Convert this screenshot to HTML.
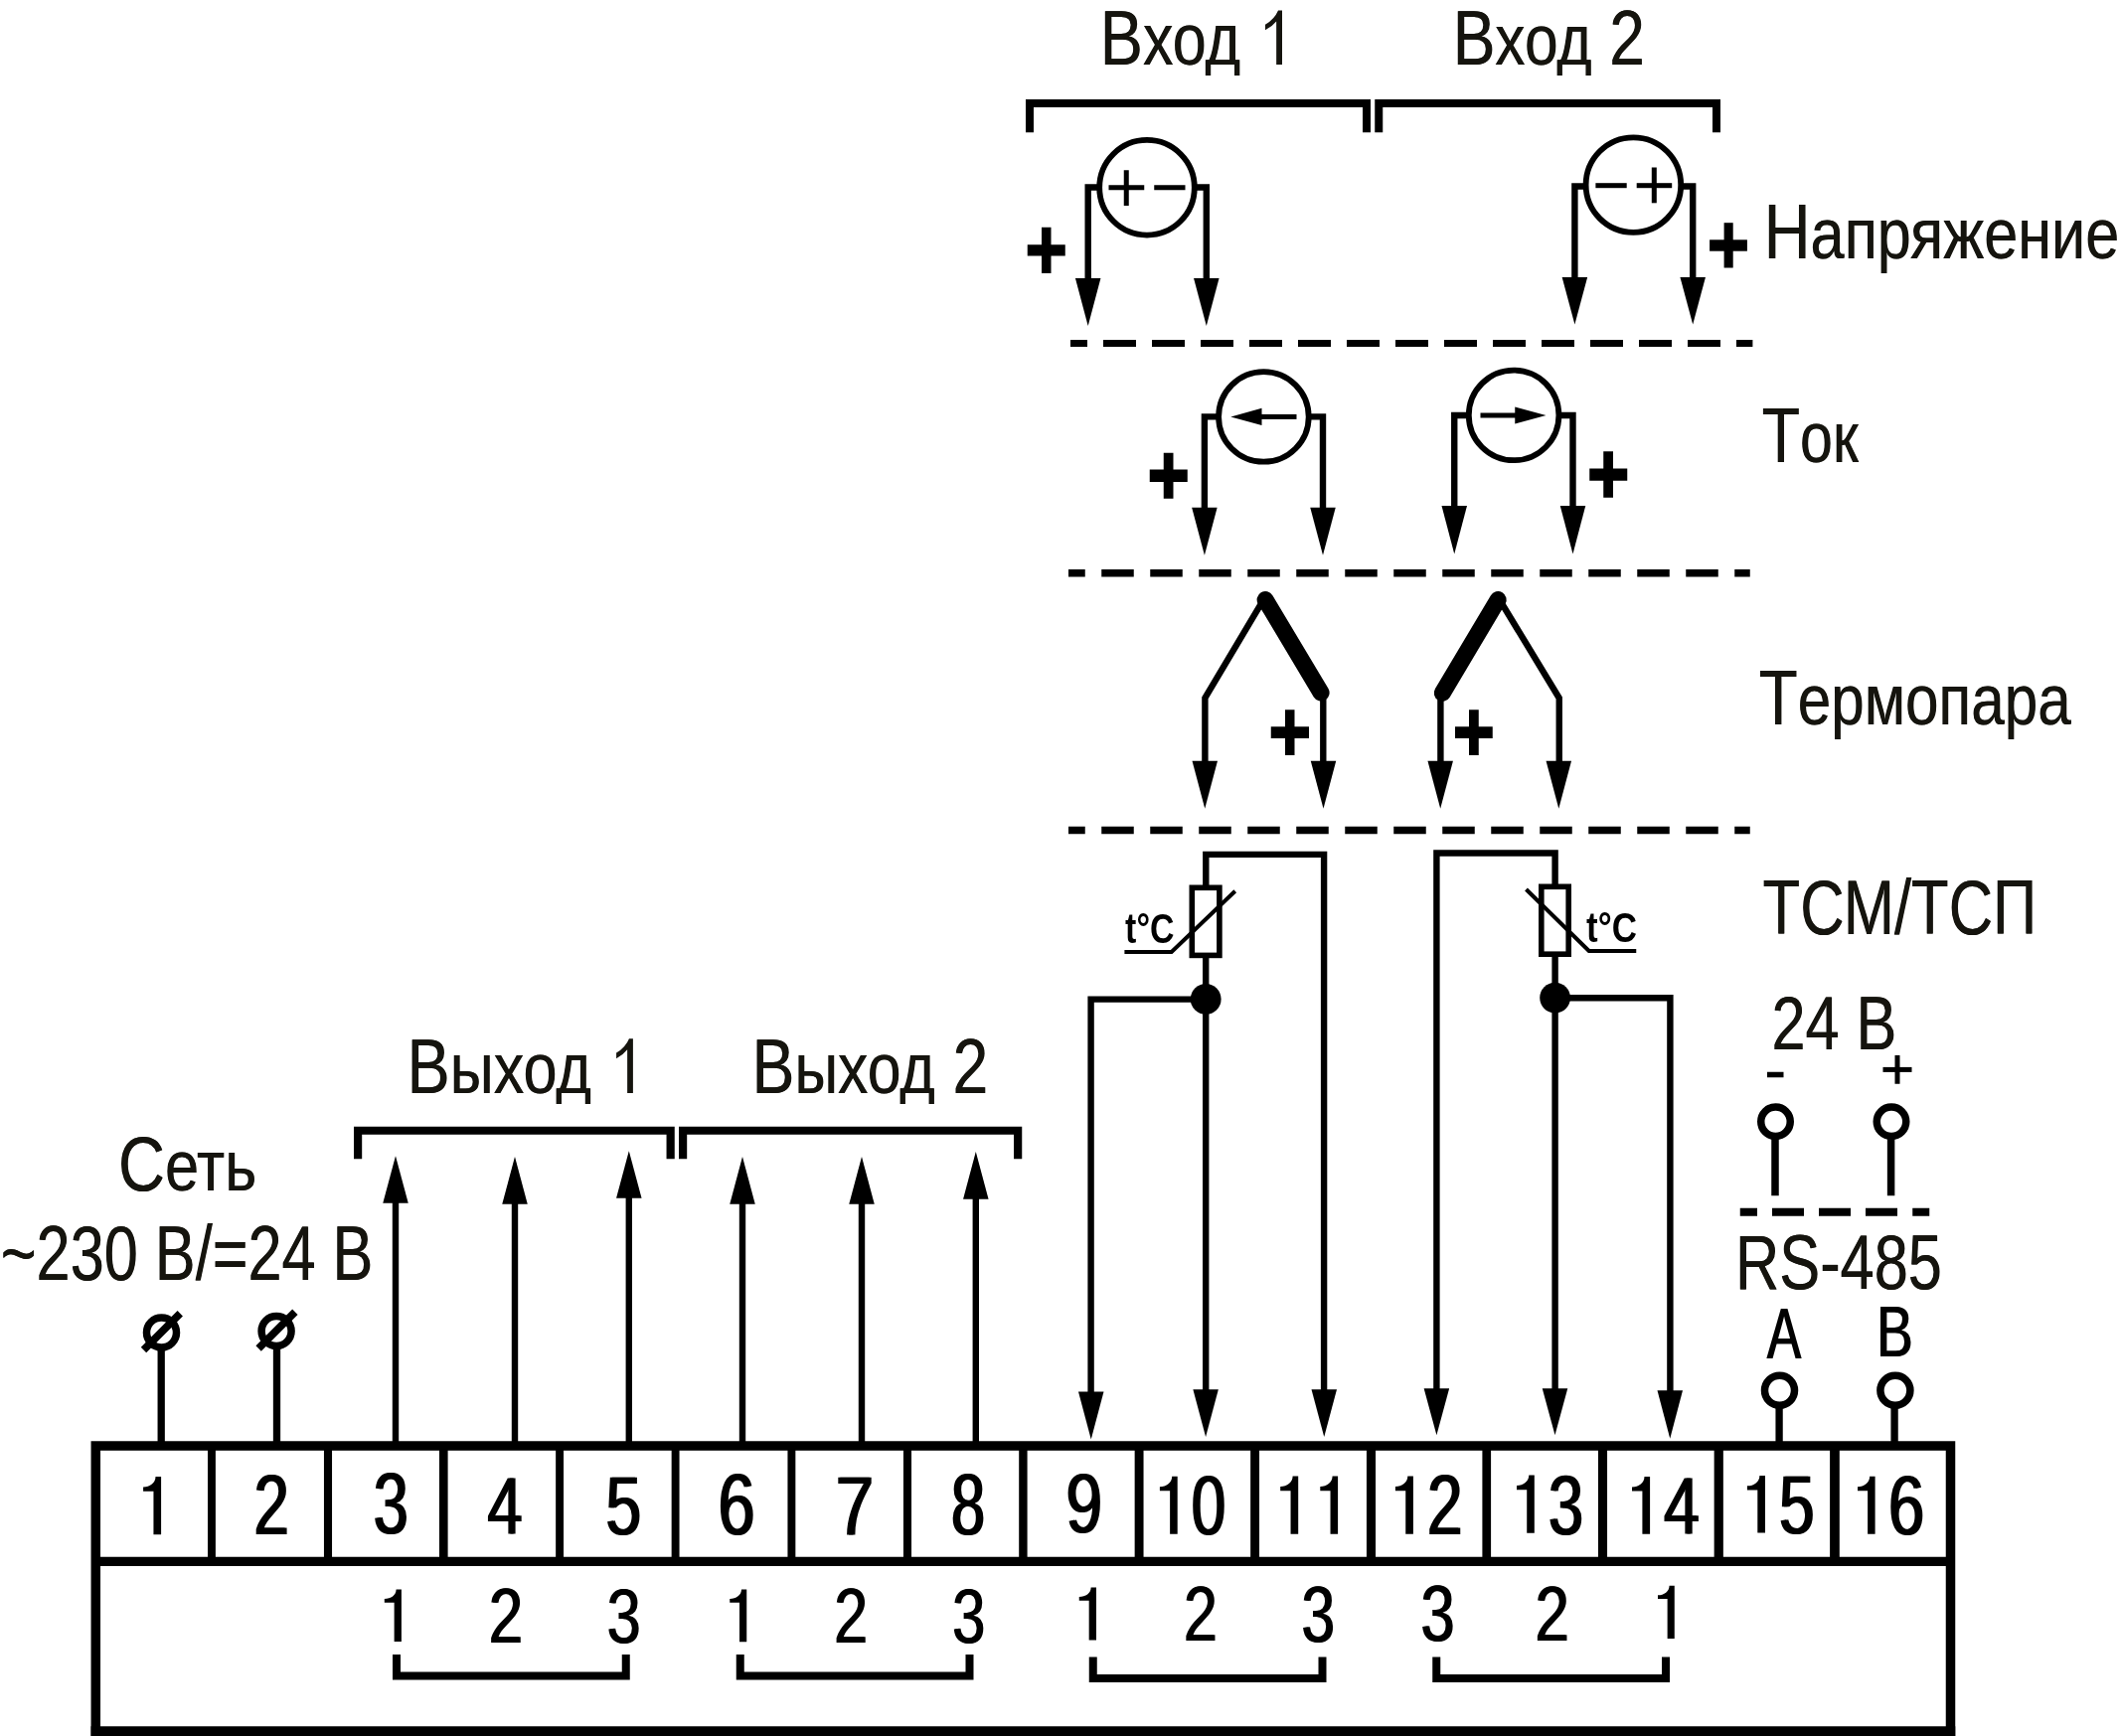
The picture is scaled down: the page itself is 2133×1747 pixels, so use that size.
<!DOCTYPE html>
<html><head><meta charset="utf-8"><title>Схема подключения</title>
<style>
html,body{margin:0;padding:0;background:#fff;}
body{width:2133px;height:1747px;overflow:hidden;}
svg{display:block;}
text{font-family:"Liberation Sans",sans-serif;white-space:pre;}
</style></head><body>
<svg width="2133" height="1747" viewBox="0 0 2133 1747">
<rect width="2133" height="1747" fill="#fff"/>
<path d="M1290.00,65.00 V10.50 H1286.02 Q1282.35,19.22 1273.00,24.83 V30.34 Q1279.80,26.85 1284.17,21.40 V65.00 Z" fill="#15140e"/>
<path d="M636.90,1100.00 V1045.20 H632.97 Q629.34,1053.97 620.10,1059.61 V1065.15 Q626.82,1061.64 631.14,1056.16 V1100.00 Z" fill="#15140e"/>
<path d="M162.10,1544.20 V1486.00 H156.52 C156.52,1492.29 150.93,1496.48 144.10,1496.48 V1500.67 H154.45 V1544.20 Z" fill="#000"/>
<path d="M1184.70,1543.80 V1485.70 H1179.18 C1179.18,1491.97 1173.66,1496.16 1166.90,1496.16 V1500.34 H1177.13 V1543.80 Z" fill="#000"/>
<path d="M1306.20,1543.80 V1485.60 H1300.62 C1300.62,1491.89 1295.03,1496.08 1288.20,1496.08 V1500.27 H1298.55 V1543.80 Z" fill="#000"/>
<path d="M1346.10,1543.80 V1485.60 H1340.58 C1340.58,1491.89 1335.06,1496.08 1328.30,1496.08 V1500.27 H1338.53 V1543.80 Z" fill="#000"/>
<path d="M1421.90,1543.80 V1485.60 H1416.32 C1416.32,1491.89 1410.73,1496.08 1403.90,1496.08 V1500.27 H1414.25 V1543.80 Z" fill="#000"/>
<path d="M1543.80,1542.70 V1484.50 H1538.28 C1538.28,1490.79 1532.76,1494.98 1526.00,1494.98 V1499.17 H1536.23 V1542.70 Z" fill="#000"/>
<path d="M1660.10,1543.80 V1486.00 H1654.49 C1654.49,1492.24 1648.87,1496.40 1642.00,1496.40 V1500.57 H1652.41 V1543.80 Z" fill="#000"/>
<path d="M1776.00,1542.60 V1484.90 H1770.39 C1770.39,1491.13 1764.77,1495.29 1757.90,1495.29 V1499.44 H1768.31 V1542.60 Z" fill="#000"/>
<path d="M1886.60,1543.80 V1485.70 H1881.14 C1881.14,1491.97 1875.68,1496.16 1869.00,1496.16 V1500.34 H1879.12 V1543.80 Z" fill="#000"/>
<path d="M403.90,1652.10 V1599.40 H398.60 C398.60,1605.09 393.29,1608.89 386.80,1608.89 V1612.68 H396.63 V1652.10 Z" fill="#000"/>
<path d="M751.25,1652.20 V1599.60 H745.98 C745.98,1605.28 740.70,1609.07 734.25,1609.07 V1612.86 H744.02 V1652.20 Z" fill="#000"/>
<path d="M1103.00,1650.40 V1597.50 H1097.65 C1097.65,1603.21 1092.30,1607.02 1085.75,1607.02 V1610.83 H1095.67 V1650.40 Z" fill="#000"/>
<path d="M1684.75,1648.90 V1595.70 H1679.56 C1679.56,1601.45 1674.36,1605.28 1668.00,1605.28 V1609.11 H1677.63 V1648.90 Z" fill="#000"/>
<path d="M96.3,1747 V1455 H1962.5 V1747" fill="none" stroke="#000" stroke-width="9.5" stroke-linejoin="miter" stroke-linecap="butt"/>
<line x1="91.55" y1="1742.2" x2="1967.25" y2="1742.2" stroke="#000" stroke-width="10" stroke-linecap="butt"/>
<line x1="96.3" y1="1571.4" x2="1962.5" y2="1571.4" stroke="#000" stroke-width="9.3" stroke-linecap="butt"/>
<line x1="212.95" y1="1455" x2="212.95" y2="1571.4" stroke="#000" stroke-width="7.9" stroke-linecap="butt"/>
<line x1="330.00" y1="1455" x2="330.00" y2="1571.4" stroke="#000" stroke-width="8.1" stroke-linecap="butt"/>
<line x1="446.30" y1="1455" x2="446.30" y2="1571.4" stroke="#000" stroke-width="8.6" stroke-linecap="butt"/>
<line x1="563.10" y1="1455" x2="563.10" y2="1571.4" stroke="#000" stroke-width="7.9" stroke-linecap="butt"/>
<line x1="679.60" y1="1455" x2="679.60" y2="1571.4" stroke="#000" stroke-width="7.9" stroke-linecap="butt"/>
<line x1="796.40" y1="1455" x2="796.40" y2="1571.4" stroke="#000" stroke-width="7.9" stroke-linecap="butt"/>
<line x1="913.00" y1="1455" x2="913.00" y2="1571.4" stroke="#000" stroke-width="8.1" stroke-linecap="butt"/>
<line x1="1029.40" y1="1455" x2="1029.40" y2="1571.4" stroke="#000" stroke-width="8.4" stroke-linecap="butt"/>
<line x1="1146.10" y1="1455" x2="1146.10" y2="1571.4" stroke="#000" stroke-width="8.9" stroke-linecap="butt"/>
<line x1="1262.60" y1="1455" x2="1262.60" y2="1571.4" stroke="#000" stroke-width="8.9" stroke-linecap="butt"/>
<line x1="1379.50" y1="1455" x2="1379.50" y2="1571.4" stroke="#000" stroke-width="9.1" stroke-linecap="butt"/>
<line x1="1495.75" y1="1455" x2="1495.75" y2="1571.4" stroke="#000" stroke-width="8.7" stroke-linecap="butt"/>
<line x1="1612.50" y1="1455" x2="1612.50" y2="1571.4" stroke="#000" stroke-width="9.1" stroke-linecap="butt"/>
<line x1="1729.25" y1="1455" x2="1729.25" y2="1571.4" stroke="#000" stroke-width="9.2" stroke-linecap="butt"/>
<line x1="1845.95" y1="1455" x2="1845.95" y2="1571.4" stroke="#000" stroke-width="9.7" stroke-linecap="butt"/>
<path d="M399,1665 V1686.5 H629.75 V1665" fill="none" stroke="#000" stroke-width="8" stroke-linejoin="miter" stroke-linecap="butt"/>
<path d="M744.75,1665 V1686.5 H975.5 V1665" fill="none" stroke="#000" stroke-width="8" stroke-linejoin="miter" stroke-linecap="butt"/>
<path d="M1099.75,1667.5 V1689 H1330.5 V1667.5" fill="none" stroke="#000" stroke-width="8" stroke-linejoin="miter" stroke-linecap="butt"/>
<path d="M1445.25,1667.5 V1689 H1676 V1667.5" fill="none" stroke="#000" stroke-width="8" stroke-linejoin="miter" stroke-linecap="butt"/>
<path d="M360.1,1166.25 V1137.75 H674.65 V1166.25" fill="none" stroke="#000" stroke-width="8.2" stroke-linejoin="miter" stroke-linecap="butt"/>
<path d="M687.1,1166.25 V1137.75 H1024.15 V1166.25" fill="none" stroke="#000" stroke-width="8.2" stroke-linejoin="miter" stroke-linecap="butt"/>
<path d="M1036,133.2 V104.1 H1375 V133.2" fill="none" stroke="#000" stroke-width="8" stroke-linejoin="miter" stroke-linecap="butt"/>
<path d="M1387.25,133.2 V104.1 H1727 V133.2" fill="none" stroke="#000" stroke-width="8" stroke-linejoin="miter" stroke-linecap="butt"/>
<circle cx="162.5" cy="1341" r="15" fill="none" stroke="#000" stroke-width="7.5"/>
<line x1="181.25" y1="1321.75" x2="144.5" y2="1358.5" stroke="#000" stroke-width="7.6" stroke-linecap="butt"/>
<line x1="162.2" y1="1355" x2="162.2" y2="1452" stroke="#000" stroke-width="7.3" stroke-linecap="butt"/>
<circle cx="278.1" cy="1339.5" r="15" fill="none" stroke="#000" stroke-width="7.5"/>
<line x1="296.85" y1="1320.25" x2="260.1" y2="1357.0" stroke="#000" stroke-width="7.6" stroke-linecap="butt"/>
<line x1="278.5" y1="1353.5" x2="278.5" y2="1452" stroke="#000" stroke-width="7.3" stroke-linecap="butt"/>
<polygon points="385.25,1210.75 410.75,1210.75 398,1163.15" fill="#000"/>
<line x1="398" y1="1209.75" x2="398" y2="1452" stroke="#000" stroke-width="6.4" stroke-linecap="butt"/>
<polygon points="505.25,1211.75 530.75,1211.75 518,1163.9" fill="#000"/>
<line x1="518" y1="1210.75" x2="518" y2="1452" stroke="#000" stroke-width="6.4" stroke-linecap="butt"/>
<polygon points="620.05,1205.75 645.55,1205.75 632.8,1158.15" fill="#000"/>
<line x1="632.8" y1="1204.75" x2="632.8" y2="1452" stroke="#000" stroke-width="6.4" stroke-linecap="butt"/>
<polygon points="734.25,1211.75 759.75,1211.75 747,1163.9" fill="#000"/>
<line x1="747" y1="1210.75" x2="747" y2="1452" stroke="#000" stroke-width="6.4" stroke-linecap="butt"/>
<polygon points="854.25,1211.75 879.75,1211.75 867,1163.9" fill="#000"/>
<line x1="867" y1="1210.75" x2="867" y2="1452" stroke="#000" stroke-width="6.4" stroke-linecap="butt"/>
<polygon points="969.05,1206.75 994.55,1206.75 981.8,1158.9" fill="#000"/>
<line x1="981.8" y1="1205.75" x2="981.8" y2="1452" stroke="#000" stroke-width="6.4" stroke-linecap="butt"/>
<circle cx="1786.5" cy="1128.75" r="14.75" fill="none" stroke="#000" stroke-width="7.5"/>
<line x1="1786" y1="1143" x2="1786" y2="1203.25" stroke="#000" stroke-width="7.5" stroke-linecap="butt"/>
<circle cx="1903" cy="1128.75" r="14.75" fill="none" stroke="#000" stroke-width="7.5"/>
<line x1="1902.6" y1="1143" x2="1902.6" y2="1203.25" stroke="#000" stroke-width="7.5" stroke-linecap="butt"/>
<rect x="1778.00" y="1078.75" width="16.50" height="5.50" fill="#000"/>
<rect x="1894.50" y="1073.90" width="29.00" height="5.00" fill="#000"/>
<rect x="1906.50" y="1062.00" width="5.00" height="28.75" fill="#000"/>
<rect x="1750.75" y="1215.75" width="17.25" height="8.00" fill="#000"/>
<rect x="1783.00" y="1215.75" width="32.00" height="8.00" fill="#000"/>
<rect x="1830.00" y="1215.75" width="32.00" height="8.00" fill="#000"/>
<rect x="1877.00" y="1215.75" width="32.00" height="8.00" fill="#000"/>
<rect x="1924.25" y="1215.75" width="17.00" height="8.00" fill="#000"/>
<circle cx="1790.5" cy="1399.25" r="15" fill="none" stroke="#000" stroke-width="7.5"/>
<line x1="1790.1" y1="1413" x2="1790.1" y2="1452" stroke="#000" stroke-width="7.3" stroke-linecap="butt"/>
<circle cx="1906.9" cy="1399.25" r="15" fill="none" stroke="#000" stroke-width="7.5"/>
<line x1="1906.1" y1="1413" x2="1906.1" y2="1452" stroke="#000" stroke-width="7.3" stroke-linecap="butt"/>
<line x1="1077" y1="345.5" x2="1763.4" y2="345.5" stroke="#000" stroke-width="7.2" stroke-dasharray="33 16" stroke-dashoffset="16"/>
<line x1="1075" y1="576.75" x2="1760.75" y2="576.75" stroke="#000" stroke-width="7.5" stroke-dasharray="32.5 16.5" stroke-dashoffset="15.75"/>
<line x1="1075" y1="835.5" x2="1760.75" y2="835.5" stroke="#000" stroke-width="7.5" stroke-dasharray="32.5 16.5" stroke-dashoffset="15.75"/>
<path d="M1094.7,281 V188.5 H1107 M1201,188.5 H1213.8 V281" fill="none" stroke="#000" stroke-width="6.4" stroke-linejoin="miter" stroke-linecap="butt"/>
<circle cx="1154" cy="188.75" r="47.8" fill="none" stroke="#000" stroke-width="5.8"/>
<polygon points="1081.95,280 1107.45,280 1094.7,328.1" fill="#000"/>
<polygon points="1201.05,280 1226.55,280 1213.8,328.1" fill="#000"/>
<path d="M1584.4,279.9 V187.5 H1596.4 M1690.4,187.5 H1703.2 V279.9" fill="none" stroke="#000" stroke-width="6.4" stroke-linejoin="miter" stroke-linecap="butt"/>
<circle cx="1643.4" cy="186.1" r="47.8" fill="none" stroke="#000" stroke-width="5.8"/>
<polygon points="1571.65,278.9 1597.15,278.9 1584.4,326.40000000000003" fill="#000"/>
<polygon points="1690.45,278.9 1715.95,278.9 1703.2,326.40000000000003" fill="#000"/>
<rect x="1115.50" y="186.25" width="35.75" height="5.00" fill="#000"/>
<rect x="1130.75" y="171.25" width="5.00" height="35.75" fill="#000"/>
<rect x="1161.25" y="186.25" width="31.25" height="5.00" fill="#000"/>
<rect x="1605.40" y="184.20" width="31.30" height="5.00" fill="#000"/>
<rect x="1646.70" y="184.20" width="35.50" height="5.00" fill="#000"/>
<rect x="1661.80" y="168.50" width="5.00" height="35.80" fill="#000"/>
<rect x="1033.75" y="246.25" width="38.00" height="11.25" fill="#000"/>
<rect x="1048.00" y="228.75" width="9.50" height="46.25" fill="#000"/>
<rect x="1720.10" y="241.30" width="37.80" height="11.40" fill="#000"/>
<rect x="1734.60" y="224.20" width="9.10" height="45.30" fill="#000"/>
<path d="M1211.9,511.75 V419.4 H1227.4 M1315.4,419.4 H1331 V511.75" fill="none" stroke="#000" stroke-width="6.4" stroke-linejoin="miter" stroke-linecap="butt"/>
<circle cx="1271.4" cy="419.4" r="45.3" fill="none" stroke="#000" stroke-width="5.8"/>
<polygon points="1199.15,510.75 1224.65,510.75 1211.9,558.85" fill="#000"/>
<polygon points="1318.25,510.75 1343.75,510.75 1331,558.85" fill="#000"/>
<path d="M1463.25,510 V418 H1479.1 M1567.1,418 H1582.5 V510" fill="none" stroke="#000" stroke-width="6.4" stroke-linejoin="miter" stroke-linecap="butt"/>
<circle cx="1523.1" cy="417.9" r="45.3" fill="none" stroke="#000" stroke-width="5.8"/>
<polygon points="1450.5,509 1476.0,509 1463.25,557.6" fill="#000"/>
<polygon points="1569.75,509 1595.25,509 1582.5,557.6" fill="#000"/>
<polygon points="1238.25,419.4 1269.5,410.8 1269.5,428" fill="#000"/>
<rect x="1268.00" y="416.90" width="36.50" height="5.00" fill="#000"/>
<polygon points="1555.5,418 1524.25,409.5 1524.25,426.5" fill="#000"/>
<rect x="1489.50" y="415.50" width="36.50" height="5.00" fill="#000"/>
<rect x="1156.75" y="472.50" width="38.00" height="12.50" fill="#000"/>
<rect x="1170.75" y="455.75" width="9.75" height="46.00" fill="#000"/>
<rect x="1599.25" y="471.50" width="38.00" height="12.25" fill="#000"/>
<rect x="1613.25" y="454.25" width="9.75" height="46.50" fill="#000"/>
<path d="M1270,605.6 L1212.4,702.3 V767" fill="none" stroke="#000" stroke-width="6.4" stroke-linejoin="miter" stroke-linecap="butt"/>
<line x1="1273.1" y1="603.5" x2="1329.1" y2="697.1" stroke="#000" stroke-width="17" stroke-linecap="round"/>
<line x1="1331.3" y1="697" x2="1331.3" y2="767" stroke="#000" stroke-width="6.4" stroke-linecap="butt"/>
<polygon points="1199.5,765.75 1225.0,765.75 1212.25,813.85" fill="#000"/>
<polygon points="1318.75,765.75 1344.25,765.75 1331.5,813.85" fill="#000"/>
<path d="M1510,605.6 L1568.75,702.5 V767" fill="none" stroke="#000" stroke-width="6.4" stroke-linejoin="miter" stroke-linecap="butt"/>
<line x1="1507.2" y1="603.5" x2="1451.3" y2="697.3" stroke="#000" stroke-width="17" stroke-linecap="round"/>
<line x1="1449.4" y1="697" x2="1449.4" y2="767" stroke="#000" stroke-width="6.4" stroke-linecap="butt"/>
<polygon points="1436.45,765.75 1461.95,765.75 1449.2,813.85" fill="#000"/>
<polygon points="1555.55,765.75 1581.05,765.75 1568.3,813.85" fill="#000"/>
<rect x="1278.75" y="731.25" width="38.25" height="11.75" fill="#000"/>
<rect x="1293.00" y="714.25" width="9.50" height="45.75" fill="#000"/>
<rect x="1464.00" y="731.25" width="37.75" height="11.75" fill="#000"/>
<rect x="1478.00" y="714.25" width="9.75" height="45.75" fill="#000"/>
<path d="M1213.3,891 V859.9 H1332.1 V1399" fill="none" stroke="#000" stroke-width="6.4" stroke-linejoin="miter" stroke-linecap="butt"/>
<rect x="1199.3" y="893.3" width="27.6" height="68.1" fill="none" stroke="#000" stroke-width="5.6"/>
<line x1="1213.2" y1="964" x2="1213.2" y2="1399" stroke="#000" stroke-width="6.4" stroke-linecap="butt"/>
<path d="M1213,1005.6 H1097.6 V1401" fill="none" stroke="#000" stroke-width="6.4" stroke-linejoin="miter" stroke-linecap="butt"/>
<circle cx="1213.2" cy="1005.4" r="15.4" fill="#000"/>
<path d="M1242.7,896.7 L1178.7,958 H1131.4" fill="none" stroke="#000" stroke-width="4" stroke-linejoin="miter" stroke-linecap="butt"/>
<polygon points="1085.0,1400.5 1110.5,1400.5 1097.75,1448.6" fill="#000"/>
<polygon points="1200.35,1398.25 1225.85,1398.25 1213.1,1446.1" fill="#000"/>
<polygon points="1319.5,1398.25 1345.0,1398.25 1332.25,1446.1" fill="#000"/>
<path d="M1564.6,890 V858.5 H1445.4 V1398" fill="none" stroke="#000" stroke-width="6.4" stroke-linejoin="miter" stroke-linecap="butt"/>
<rect x="1550.8" y="892.3" width="27.4" height="67.9" fill="none" stroke="#000" stroke-width="5.6"/>
<line x1="1564.6" y1="963" x2="1564.6" y2="1398" stroke="#000" stroke-width="6.4" stroke-linecap="butt"/>
<path d="M1565,1004.2 H1680.4 V1400" fill="none" stroke="#000" stroke-width="6.4" stroke-linejoin="miter" stroke-linecap="butt"/>
<circle cx="1564.6" cy="1004.1" r="15.4" fill="#000"/>
<path d="M1535.5,895 L1598.75,956.9 H1646.25" fill="none" stroke="#000" stroke-width="4" stroke-linejoin="miter" stroke-linecap="butt"/>
<polygon points="1432.65,1397.25 1458.15,1397.25 1445.4,1444.35" fill="#000"/>
<polygon points="1551.75,1397.25 1577.25,1397.25 1564.5,1444.35" fill="#000"/>
<polygon points="1667.5,1399.25 1693.0,1399.25 1680.25,1447.85" fill="#000"/>
<g opacity="0.999">
<text transform="translate(254.53,1544.25) scale(0.7500,1)" font-size="84.62" fill="#000">2</text>
<text transform="translate(256.52,1544.25) scale(0.7500,1)" font-size="84.62" fill="#000">2</text>
<text transform="translate(374.78,1543.45) scale(0.7300,1)" font-size="86.26" fill="#000">3</text>
<text transform="translate(376.78,1543.45) scale(0.7300,1)" font-size="86.26" fill="#000">3</text>
<text transform="translate(489.52,1543.90) scale(0.7694,1)" font-size="81.92" fill="#000">4</text>
<text transform="translate(491.52,1543.90) scale(0.7694,1)" font-size="81.92" fill="#000">4</text>
<text transform="translate(608.39,1543.99) scale(0.7640,1)" font-size="84.03" fill="#000">5</text>
<text transform="translate(610.39,1543.99) scale(0.7640,1)" font-size="84.03" fill="#000">5</text>
<text transform="translate(721.57,1543.55) scale(0.7741,1)" font-size="86.26" fill="#000">6</text>
<text transform="translate(723.57,1543.55) scale(0.7741,1)" font-size="86.26" fill="#000">6</text>
<text transform="translate(839.76,1544.30) scale(0.8365,1)" font-size="82.63" fill="#000">7</text>
<text transform="translate(841.76,1544.30) scale(0.8365,1)" font-size="82.63" fill="#000">7</text>
<text transform="translate(955.98,1543.55) scale(0.7108,1)" font-size="86.26" fill="#000">8</text>
<text transform="translate(957.98,1543.55) scale(0.7108,1)" font-size="86.26" fill="#000">8</text>
<text transform="translate(1071.52,1542.06) scale(0.7679,1)" font-size="85.57" fill="#000">9</text>
<text transform="translate(1073.52,1542.06) scale(0.7679,1)" font-size="85.57" fill="#000">9</text>
<text transform="translate(1197.86,1543.97) scale(0.7293,1)" font-size="85.01" fill="#000">0</text>
<text transform="translate(1199.86,1543.97) scale(0.7293,1)" font-size="85.01" fill="#000">0</text>
<text transform="translate(1435.11,1543.80) scale(0.7513,1)" font-size="84.91" fill="#000">2</text>
<text transform="translate(1437.11,1543.80) scale(0.7513,1)" font-size="84.91" fill="#000">2</text>
<text transform="translate(1557.03,1543.55) scale(0.7311,1)" font-size="86.12" fill="#000">3</text>
<text transform="translate(1559.03,1543.55) scale(0.7311,1)" font-size="86.12" fill="#000">3</text>
<text transform="translate(1672.99,1543.80) scale(0.7833,1)" font-size="82.20" fill="#000">4</text>
<text transform="translate(1674.99,1543.80) scale(0.7833,1)" font-size="82.20" fill="#000">4</text>
<text transform="translate(1788.90,1543.30) scale(0.7705,1)" font-size="83.06" fill="#000">5</text>
<text transform="translate(1790.90,1543.30) scale(0.7705,1)" font-size="83.06" fill="#000">5</text>
<text transform="translate(1898.95,1544.16) scale(0.7604,1)" font-size="85.57" fill="#000">6</text>
<text transform="translate(1900.95,1544.16) scale(0.7604,1)" font-size="85.57" fill="#000">6</text>
<text transform="translate(491.10,1652.80) scale(0.7952,1)" font-size="77.80" fill="#000">2</text>
<text transform="translate(492.40,1652.80) scale(0.7952,1)" font-size="77.80" fill="#000">2</text>
<text transform="translate(609.98,1652.68) scale(0.7856,1)" font-size="78.05" fill="#000">3</text>
<text transform="translate(611.28,1652.68) scale(0.7856,1)" font-size="78.05" fill="#000">3</text>
<text transform="translate(838.38,1652.90) scale(0.7856,1)" font-size="77.94" fill="#000">2</text>
<text transform="translate(839.68,1652.90) scale(0.7856,1)" font-size="77.94" fill="#000">2</text>
<text transform="translate(957.38,1652.88) scale(0.7644,1)" font-size="78.19" fill="#000">3</text>
<text transform="translate(958.68,1652.88) scale(0.7644,1)" font-size="78.19" fill="#000">3</text>
<text transform="translate(1190.13,1651.00) scale(0.7827,1)" font-size="78.22" fill="#000">2</text>
<text transform="translate(1191.43,1651.00) scale(0.7827,1)" font-size="78.22" fill="#000">2</text>
<text transform="translate(1308.87,1651.55) scale(0.7549,1)" font-size="79.86" fill="#000">3</text>
<text transform="translate(1310.17,1651.55) scale(0.7549,1)" font-size="79.86" fill="#000">3</text>
<text transform="translate(1428.83,1650.97) scale(0.7759,1)" font-size="79.03" fill="#000">3</text>
<text transform="translate(1430.13,1650.97) scale(0.7759,1)" font-size="79.03" fill="#000">3</text>
<text transform="translate(1543.86,1651.00) scale(0.7939,1)" font-size="77.80" fill="#000">2</text>
<text transform="translate(1545.16,1651.00) scale(0.7939,1)" font-size="77.80" fill="#000">2</text>
<clipPath id="c44"><rect x="1106.6" y="-15" width="146.4" height="90.9"/></clipPath><g clip-path="url(#c44)">
<text transform="translate(1106.54,65) scale(0.8348,1)" font-size="77.51" fill="#15140e"><tspan font-size="77.51">В</tspan><tspan font-size="73.17">ход</tspan></text>
<text transform="translate(1107.04,65) scale(0.8348,1)" font-size="77.51" fill="#15140e"><tspan font-size="77.51">В</tspan><tspan font-size="73.17">ход</tspan></text>
</g>
<clipPath id="c48"><rect x="1461.4" y="-15" width="196.2" height="90.9"/></clipPath><g clip-path="url(#c48)">
<text transform="translate(1461.40,65) scale(0.8265,1)" font-size="77.51" fill="#15140e"><tspan font-size="77.51">В</tspan><tspan font-size="73.17">ход</tspan><tspan font-size="77.51"> 2</tspan></text>
<text transform="translate(1461.90,65) scale(0.8265,1)" font-size="77.51" fill="#15140e"><tspan font-size="77.51">В</tspan><tspan font-size="73.17">ход</tspan><tspan font-size="77.51"> 2</tspan></text>
</g>
<text transform="translate(1774.54,259.6) scale(0.8363,1)" font-size="77.51" fill="#15140e"><tspan font-size="77.51">Н</tspan><tspan font-size="73.17">апряжение</tspan></text>
<text transform="translate(1775.04,259.6) scale(0.8363,1)" font-size="77.51" fill="#15140e"><tspan font-size="77.51">Н</tspan><tspan font-size="73.17">апряжение</tspan></text>
<text transform="translate(1772.52,465) scale(0.8084,1)" font-size="77.51" fill="#15140e"><tspan font-size="77.51">Т</tspan><tspan font-size="73.17">ок</tspan></text>
<text transform="translate(1773.02,465) scale(0.8084,1)" font-size="77.51" fill="#15140e"><tspan font-size="77.51">Т</tspan><tspan font-size="73.17">ок</tspan></text>
<text transform="translate(1769.50,729) scale(0.8230,1)" font-size="77.51" fill="#15140e"><tspan font-size="77.51">Т</tspan><tspan font-size="73.17">ермопара</tspan></text>
<text transform="translate(1770.00,729) scale(0.8230,1)" font-size="77.51" fill="#15140e"><tspan font-size="77.51">Т</tspan><tspan font-size="73.17">ермопара</tspan></text>
<text transform="translate(1773.34,940) scale(0.7916,1)" font-size="77.65" fill="#15140e">ТСМ/ТСП</text>
<text transform="translate(1773.84,940) scale(0.7916,1)" font-size="77.65" fill="#15140e">ТСМ/ТСП</text>
<text transform="translate(1782.13,1056.25) scale(0.7972,1)" font-size="76.80" fill="#15140e">24 В</text>
<text transform="translate(1782.63,1056.25) scale(0.7972,1)" font-size="76.80" fill="#15140e">24 В</text>
<text transform="translate(1745.71,1297) scale(0.7901,1)" font-size="77.65" fill="#15140e">RS-485</text>
<text transform="translate(1746.21,1297) scale(0.7901,1)" font-size="77.65" fill="#15140e">RS-485</text>
<text transform="translate(1777.25,1367) scale(0.7160,1)" font-size="71.82" fill="#000">A</text>
<text transform="translate(1778.45,1367) scale(0.7160,1)" font-size="71.82" fill="#000">A</text>
<text transform="translate(1887.46,1365) scale(0.7651,1)" font-size="71.82" fill="#000">В</text>
<text transform="translate(1888.66,1365) scale(0.7651,1)" font-size="71.82" fill="#000">В</text>
<text transform="translate(118.70,1197.5) scale(0.8444,1)" font-size="77.08" fill="#15140e"><tspan font-size="77.08">С</tspan><tspan font-size="72.77">еть</tspan></text>
<text transform="translate(119.20,1197.5) scale(0.8444,1)" font-size="77.08" fill="#15140e"><tspan font-size="77.08">С</tspan><tspan font-size="72.77">еть</tspan></text>
<text transform="translate(0.59,1287.5) scale(0.7890,1)" font-size="77.65" fill="#15140e">~230 В/=24 В</text>
<text transform="translate(1.09,1287.5) scale(0.7890,1)" font-size="77.65" fill="#15140e">~230 В/=24 В</text>
<clipPath id="c72"><rect x="409.3" y="1020" width="190.7" height="90.9"/></clipPath><g clip-path="url(#c72)">
<text transform="translate(409.23,1100) scale(0.8366,1)" font-size="77.51" fill="#15140e"><tspan font-size="77.51">В</tspan><tspan font-size="73.17">ыход</tspan></text>
<text transform="translate(409.73,1100) scale(0.8366,1)" font-size="77.51" fill="#15140e"><tspan font-size="77.51">В</tspan><tspan font-size="73.17">ыход</tspan></text>
</g>
<clipPath id="c76"><rect x="756.2" y="1020" width="240.8" height="90.9"/></clipPath><g clip-path="url(#c76)">
<text transform="translate(756.22,1100) scale(0.8304,1)" font-size="77.51" fill="#15140e"><tspan font-size="77.51">В</tspan><tspan font-size="73.17">ыход</tspan><tspan font-size="77.51"> 2</tspan></text>
<text transform="translate(756.72,1100) scale(0.8304,1)" font-size="77.51" fill="#15140e"><tspan font-size="77.51">В</tspan><tspan font-size="73.17">ыход</tspan><tspan font-size="77.51"> 2</tspan></text>
</g>
<text transform="translate(1132.10,949.2) scale(0.8056,1)" font-size="42.10" font-weight="bold" fill="#000">t°C</text>
<text transform="translate(1596.10,947.6) scale(0.8304,1)" font-size="42.10" font-weight="bold" fill="#000">t°C</text>
</g>
</svg>
</body></html>
